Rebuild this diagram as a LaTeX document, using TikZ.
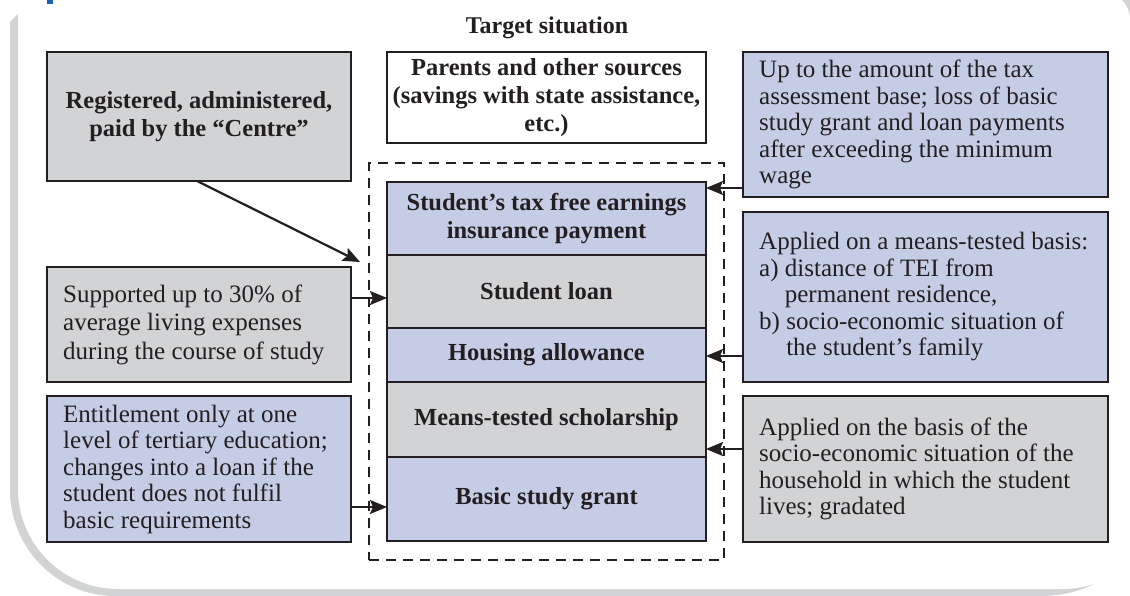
\documentclass[tikz,border=0pt]{standalone}
\usepackage{fontspec}
\setmainfont{Liberation Serif}
\usetikzlibrary{arrows.meta}
\definecolor{boxblue}{RGB}{197,205,230}
\definecolor{boxgray}{RGB}{209,211,212}
\definecolor{ink}{RGB}{35,31,32}
\definecolor{framegray}{RGB}{209,211,212}
\definecolor{headblue}{RGB}{28,99,183}
\begin{document}
\begin{tikzpicture}[x=1pt,y=-1pt,
  every node/.style={text=ink},
  box/.style={draw=ink, line width=2.7pt, inner sep=0pt, outer sep=0pt},
  bluebox/.style={box, fill=boxblue},
  graybox/.style={box, fill=boxgray},
  whitebox/.style={box, fill=white},
  boldtxt/.style={font=\fontsize{24.5}{28}\selectfont\bfseries, align=center},
  regtxt/.style={font=\fontsize{25}{26.5}\selectfont, align=left, anchor=west, inner sep=0pt},
  arr/.style={draw=ink, line width=2.2pt, -{Stealth[length=17pt,width=14pt,inset=3pt]}},
  dashbox/.style={draw=ink, line width=2.2pt, dash pattern=on 10pt off 7pt, inner sep=0pt}
]
\useasboundingbox (0,0) rectangle (1130,596);
% background frame
\fill[framegray] (10,22) -- (18,14) -- (1140,14) -- (1140,500)
  .. controls (1140,560) and (1100,596) .. (1040,596) -- (115,596)
  .. controls (57,596) and (10,548) .. (10,490) -- cycle;
\fill[white] (18,-5) -- (1135,-5) -- (1135,520)
  .. controls (1135,565) and (1105,589) .. (1062,589) -- (118,589)
  .. controls (63,589) and (18,544) .. (18,489) -- cycle;
\fill[framegray] (1122,0) .. controls (1127,5) and (1129,10) .. (1130,16) -- (1130,0) -- cycle;
\fill[headblue] (47,0) rectangle (53,4);

% title
\node[font=\fontsize{24}{28}\selectfont\bfseries] (title) at (547,28) {Target situation};

% dashed frame
\node[dashbox, minimum width=355pt, minimum height=397pt] (frame) at (546.5,361.5) {};

% central stack
\node[bluebox, boldtxt, minimum width=319pt, minimum height=73pt] (s1) at (546.5,218.5) {Student’s tax free earnings\\insurance payment};
\node[graybox, boldtxt, minimum width=319pt, minimum height=73pt] (s2) at (546.5,291.5) {Student loan};
\node[bluebox, boldtxt, minimum width=319pt, minimum height=54pt] (s3) at (546.5,355) {Housing allowance};
\node[graybox, boldtxt, minimum width=319pt, minimum height=75pt] (s4) at (546.5,419.5) {Means-tested scholarship};
\node[bluebox, boldtxt, minimum width=319pt, minimum height=84pt] (s5) at (546.5,499) {Basic study grant};

% top boxes
\node[whitebox, boldtxt, minimum width=319pt, minimum height=91pt] (par) at (546.5,97.5) {Parents and other sources\\(savings with state assistance,\\etc.)};
\node[graybox, boldtxt, minimum width=304pt, minimum height=129pt] (reg) at (199,116.5) {Registered, administered,\\paid by the “Centre”};

% left boxes
\node[graybox, minimum width=304pt, minimum height=115pt] (sup) at (199,324.5) {};
\node[regtxt, font=\fontsize{25}{28.5}\selectfont] (supt) at ([xshift=16pt]sup.west) {Supported up to 30\% of\\average living expenses\\during the course of study};
\node[bluebox, minimum width=304pt, minimum height=146pt] (ent) at (199,469) {};
\node[regtxt] (entt) at ([xshift=16pt]ent.west) {Entitlement only at one\\level of tertiary education;\\changes into a loan if the\\student does not fulfil\\basic requirements};

% right boxes
\node[bluebox, minimum width=365pt, minimum height=145pt] (r1) at (925.5,124.5) {};
\node[regtxt] (r1t) at ([xshift=16pt]r1.west) {Up to the amount of the tax\\assessment base; loss of basic\\study grant and loan payments\\after exceeding the minimum\\wage};
\node[bluebox, minimum width=365pt, minimum height=170pt] (r2) at (925.5,297) {};
\node[regtxt] (r2t) at ([xshift=16pt]r2.west) {Applied on a means-tested basis:\\a) distance of TEI from\\\phantom{a) }permanent residence,\\b) socio-economic situation of\\\phantom{b) }the student’s family};
\node[graybox, minimum width=365pt, minimum height=146pt] (r3) at (925.5,469) {};
\node[regtxt] (r3t) at ([xshift=16pt]r3.west) {Applied on the basis of the\\socio-economic situation of the\\household in which the student\\lives; gradated};

% arrows
\coordinate (a1end) at (360,262);
\draw[arr] ([xshift=-2pt]reg.south) -- (a1end);
\draw[arr] (sup.east |- 0,298) -- (s2.west |- 0,298);
\draw[arr] (ent.east |- 0,507) -- (s5.west |- 0,507);
\draw[arr] (r1.west |- 0,188) -- (s1.east |- 0,188);
\draw[arr] (r2.west |- 0,356) -- (s3.east |- 0,356);
\draw[arr] (r3.west |- 0,449) -- (s4.east |- 0,449);
\end{tikzpicture}
\end{document}
